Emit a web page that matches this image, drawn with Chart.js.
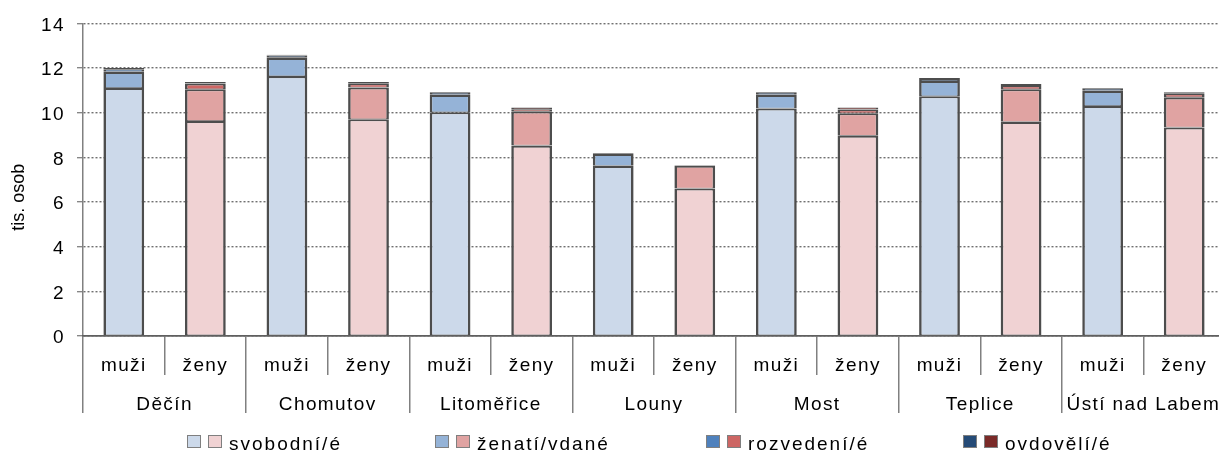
<!DOCTYPE html>
<html>
<head>
<meta charset="utf-8">
<script src="https://cdn.jsdelivr.net/npm/chart.js@4.4.0/dist/chart.umd.min.js"></script>
<style>
  html, body { margin: 0; padding: 0; background: #fff; overflow: hidden; width: 1219px; height: 451px; }
  #clip { position: absolute; left: 0; top: 0; width: 1219px; height: 451px; overflow: hidden; }
  #wrap { position: absolute; left: 0; top: 0; width: 1227px; height: 451px; }
  .sw { position: absolute; top: 435px; width: 12px; height: 11px; border: 1px solid #7f7f7f; }
  .lt { position: absolute; top: 434px; font: 19px "Liberation Sans", Arial, sans-serif; line-height: 19px; letter-spacing: 2px; color: #000; }
</style>
</head>
<body>
<div id="clip">
  <div id="wrap"><canvas id="c"></canvas></div>
  <div id="legend"></div>
</div>
<script>
// okresy a pohlaví
const districts = ['Děčín', 'Chomutov', 'Litoměřice', 'Louny', 'Most', 'Teplice', 'Ústí nad Labem'];
const sexes = ['muži', 'ženy'];

// tis. osob, podle rodinného stavu
const svobMuzi = [11.11, 11.64, 10.02, 7.62, 10.19, 10.74, 10.30];
const svobZeny = [9.63, 9.71, 8.53, 6.61, 8.97, 9.59, 9.34];
const zenati   = [0.72, 0.82, 0.78, 0.53, 0.61, 0.68, 0.68];
const vdane    = [1.42, 1.42, 1.53, 1.02, 1.01, 1.46, 1.35];
const rozvMuzi = [0.12, 0.10, 0.09, 0.03, 0.09, 0.09, 0.09];
const rozvZeny = [0.26, 0.19, 0.09, 0.02, 0.16, 0.19, 0.18];
const ovdMuzi  = [0.05, 0.04, 0.04, 0.02, 0.04, 0.04, 0.04];
const ovdZeny  = [0.07, 0.06, 0.08, 0.01, 0.09, 0.05, 0.05];

const yTicks = [0, 2, 4, 6, 8, 10, 12, 14];
const legendLabels = ['svobodní/é', 'ženatí/vdané', 'rozvedení/é', 'ovdovělí/é'];

// barvy: [muži, ženy]
const colors = [
  ['#CCD9EA', '#F0D2D3'],
  ['#95B3D7', '#E0A3A2'],
  ['#4F81BD', '#CD6664'],
  ['#254B77', '#7A2A28'],
];

// střídat muži / ženy v každém okrese
const interleave = (m, z) => m.flatMap((v, i) => [v, z[i]]);
const labels = districts.flatMap(() => sexes);
const series = [
  interleave(svobMuzi, svobZeny),
  interleave(zenati, vdane),
  interleave(rozvMuzi, rozvZeny),
  interleave(ovdMuzi, ovdZeny),
];

const FONT = '"Liberation Sans", Arial, sans-serif';

const datasets = series.map((data, i) => ({
  label: legendLabels[i],
  data: data,
  backgroundColor: data.map((_, j) => colors[i][j % 2]),
  borderColor: '#4d4d4d',
  borderWidth: { top: 2.1, right: 2.6, bottom: 0.7, left: 2.6 },
  borderSkipped: false,
  inflateAmount: 0,
  barPercentage: 0.5,
  categoryPercentage: 1.0,
}));

// letter spacing jen pro popisky os (titul osy y bez něj)
const textSpacing = {
  id: 'textSpacing',
  beforeDraw(chart) { chart.ctx.letterSpacing = '0px'; },
  afterDatasetsDraw(chart) { chart.ctx.letterSpacing = '1.4px'; },
  afterDraw(chart) { chart.ctx.letterSpacing = '0px'; },
};

new Chart(document.getElementById('c'), {
  type: 'bar',
  data: { labels: labels, datasets: datasets },
  plugins: [textSpacing],
  options: {
    responsive: true,
    maintainAspectRatio: false,
    animation: false,
    layout: { padding: { top: 19, right: 2, bottom: 38, left: 0 } },
    plugins: { legend: { display: false }, tooltip: { enabled: false } },
    scales: {
      y: {
        stacked: true,
        min: 0,
        max: 14,
        afterBuildTicks: (s) => { s.ticks = yTicks.map((v) => ({ value: v })); },
        ticks: { font: { family: FONT, size: 19 }, color: '#000', padding: 12, labelOffset: 2, z: 1 },
        grid: { color: '#707070', lineWidth: 1.4, tickLength: 6, tickColor: '#808080', tickWidth: 1.3, tickBorderDash: [] },
        border: { display: true, color: '#808080', width: 1.5, dash: [2, 2] },
        title: {
          display: true,
          text: 'tis. osob' + '\u00a0'.repeat(7),
          font: { family: FONT, size: 18 },
          color: '#000',
          padding: { top: 8, bottom: 0 },
        },
        afterFit: (s) => { s.width = 83; },
      },
      x: {
        stacked: true,
        offset: true,
        grid: { drawOnChartArea: false, offset: true, tickLength: 39, color: '#808080', lineWidth: 1.5 },
        border: { display: true, color: '#5f5f5f', width: 1.8, z: 1 },
        ticks: { font: { family: FONT, size: 19 }, color: '#000', padding: -21, maxRotation: 0, autoSkip: false, z: 1 },
        afterFit: (s) => { s.height = 39; },
      },
      x2: {
        type: 'category',
        position: 'bottom',
        labels: districts,
        offset: true,
        grid: { drawOnChartArea: false, offset: true, tickLength: 38, color: '#808080', lineWidth: 1.5 },
        border: { display: false },
        ticks: { font: { family: FONT, size: 19 }, color: '#000', padding: -20, maxRotation: 0, autoSkip: false, z: 1 },
        afterFit: (s) => { s.height = 38; },
      },
    },
  },
});

// legenda: dva čtverečky (muži, ženy) + text
const legendLeft = [187, 435, 706, 963];
const legend = document.getElementById('legend');
legendLabels.forEach((txt, i) => {
  const x = legendLeft[i];
  const a = document.createElement('span');
  a.className = 'sw';
  a.style.left = x + 'px';
  a.style.background = colors[i][0];
  const b = document.createElement('span');
  b.className = 'sw';
  b.style.left = (x + 21) + 'px';
  b.style.background = colors[i][1];
  const t = document.createElement('span');
  t.className = 'lt';
  t.style.left = (x + 42) + 'px';
  t.textContent = txt;
  legend.append(a, b, t);
});
</script>
</body>
</html>
